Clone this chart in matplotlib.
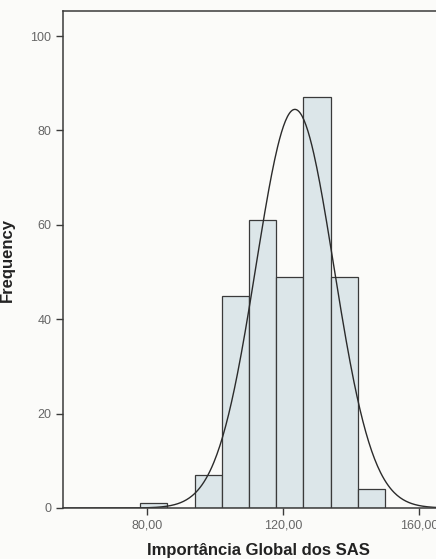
import numpy as np
import matplotlib.pyplot as plt

# histogram bins (lower edges) and counts
bin_left = [78, 86, 94, 102, 110, 118, 126, 134, 142]
counts = [1, 0, 7, 45, 61, 49, 87, 49, 4]
bin_width = 8

# normal curve fitted by SPSS
curve_mean = 123.5
curve_sd = 11.45
n_cases = sum(counts)

x_ticks = [80, 120, 160]
x_tick_labels = ["80,00", "120,00", "160,00"]
y_ticks = [0, 20, 40, 60, 80, 100]

plt.rcParams["font.family"] = ["Liberation Sans", "DejaVu Sans"]

fig = plt.figure(figsize=(4.36, 5.59), dpi=100)
fig.patch.set_facecolor("#fbfbf9")
ax = fig.add_axes([63 / 436, 1 - 508 / 559, 390 / 436, 497 / 559])
ax.set_facecolor("#fbfbf9")

lefts = [b for b, c in zip(bin_left, counts) if c > 0]
heights = [c for c in counts if c > 0]
ax.bar(lefts, heights, width=bin_width, align="edge",
       color="#dce6e9", edgecolor="#3a3a3a", linewidth=0.9)

xs = np.linspace(55, 170, 400)
ys = n_cases * bin_width / (curve_sd * np.sqrt(2 * np.pi)) * \
    np.exp(-0.5 * ((xs - curve_mean) / curve_sd) ** 2)
ax.plot(xs, ys, color="#2b2b2b", linewidth=1.0)

ax.set_xlim(55.3, 170)
ax.set_ylim(0, 105.3)
ax.set_xticks(x_ticks)
ax.set_xticklabels(x_tick_labels)
ax.set_yticks(y_ticks)
ax.tick_params(axis="both", direction="out", length=5, width=1,
               colors="#3a3a3a", labelcolor="#666666", labelsize=9)

for s in ax.spines.values():
    s.set_color("#3a3a3a")
    s.set_linewidth(1.1)
ax.spines["right"].set_visible(False)

ax.set_xlabel("Importância Global dos SAS", fontsize=12, fontweight="bold",
              color="#222222", labelpad=8)
ax.set_ylabel("Frequency", fontsize=12, fontweight="bold",
              color="#222222", labelpad=11)

fig.savefig("out.png", dpi=100, facecolor=fig.get_facecolor())
